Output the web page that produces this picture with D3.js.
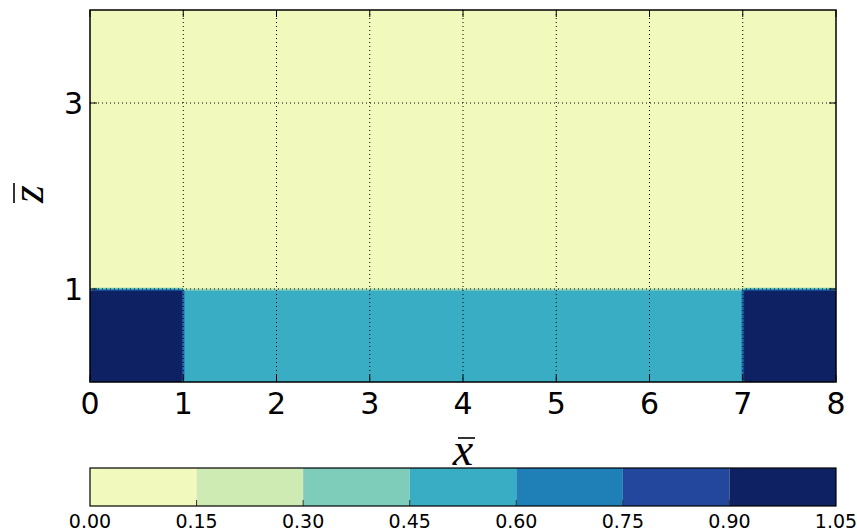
<!DOCTYPE html>
<html>
<head>
<meta charset="utf-8">
<script src="https://cdn.jsdelivr.net/npm/d3@7"></script>
<style>
  html, body { margin: 0; padding: 0; background: #fff; }
  svg { display: block; }
</style>
</head>
<body>
<svg id="chart" width="857" height="531"></svg>
<script>
// Field made of rectangular zones: [x0, x1, z0, z1] with a value each.
// Later zones win where they overlap.
const zoneBounds = [
  [0, 8, 0, 4],
  [1, 7, 0, 1],
  [0, 1, 0, 1],
  [7, 8, 0, 1]
];
const zoneValues = [0.0, 0.5, 1.0, 1.0];

// Contour levels and fill colours
const levels = [0.00, 0.15, 0.30, 0.45, 0.60, 0.75, 0.90, 1.05];
const levelColors = ["#f1f9bd", "#cdebb3", "#7ecdbb", "#39adc3", "#1f80b8", "#23479c", "#0e2163"];
const levelLabels = ["0.00", "0.15", "0.30", "0.45", "0.60", "0.75", "0.90", "1.05"];

const xTicks = [0, 1, 2, 3, 4, 5, 6, 7, 8];
const zTicks = [1, 3];

const svg = d3.select("#chart");
const plot = { left: 90, right: 836, top: 10, bottom: 382 };
const x = d3.scaleLinear().domain([0, 8]).range([plot.left, plot.right]);
const z = d3.scaleLinear().domain([0, 4]).range([plot.bottom, plot.top]);

// Sample the zoned field at cell centres of a regular grid for contouring
const step = 0.05;
const nx = Math.round(8 / step);
const nz = Math.round(4 / step);
function fieldAt(px, pz) {
  for (let k = zoneBounds.length - 1; k >= 0; k--) {
    const b = zoneBounds[k];
    if (px >= b[0] && px <= b[1] && pz >= b[2] && pz <= b[3]) return zoneValues[k];
  }
  return zoneValues[0];
}
const grid = new Array(nx * nz);
for (let j = 0; j < nz; j++) {
  for (let i = 0; i < nx; i++) {
    grid[j * nx + i] = fieldAt((i + 0.5) * step, (j + 0.5) * step);
  }
}
const contours = d3.contours().size([nx, nz]).thresholds(levels.slice(0, -1))(grid);

// grid coords -> pixels
const gx = d3.scaleLinear().domain([0, nx]).range([x(0), x(8)]);
const gz = d3.scaleLinear().domain([0, nz]).range([z(0), z(4)]);
const proj = d3.geoTransform({
  point: function(px, py) { this.stream.point(gx(px), gz(py)); }
});
const path = d3.geoPath(proj);

svg.append("defs").append("clipPath").attr("id", "plotclip")
  .append("rect")
  .attr("x", plot.left).attr("y", plot.top)
  .attr("width", plot.right - plot.left).attr("height", plot.bottom - plot.top);

const field = svg.append("g").attr("clip-path", "url(#plotclip)");
field.append("rect")
  .attr("x", plot.left).attr("y", plot.top)
  .attr("width", plot.right - plot.left).attr("height", plot.bottom - plot.top)
  .attr("fill", levelColors[0]);
field.selectAll("path.band")
  .data(contours)
  .join("path")
  .attr("class", "band")
  .attr("d", path)
  .attr("fill", (d, i) => levelColors[i]);

// Dotted grid
const gridG = svg.append("g");
gridG.selectAll("line.gx")
  .data(xTicks.filter(t => t > 0 && t < 8))
  .join("line")
  .attr("x1", d => x(d)).attr("x2", d => x(d))
  .attr("y1", plot.top).attr("y2", plot.bottom)
  .attr("stroke", "#000").attr("stroke-width", 1)
  .attr("stroke-dasharray", "1,3");
gridG.selectAll("line.gz")
  .data(zTicks)
  .join("line")
  .attr("x1", plot.left).attr("x2", plot.right)
  .attr("y1", d => z(d)).attr("y2", d => z(d))
  .attr("stroke", "#000").attr("stroke-width", 1)
  .attr("stroke-dasharray", "1,3");

// Inward ticks on all four sides
const tickLen = 7;
const ticksG = svg.append("g").attr("stroke", "#000").attr("stroke-width", 1);
xTicks.forEach(t => {
  ticksG.append("line").attr("x1", x(t)).attr("x2", x(t)).attr("y1", plot.bottom).attr("y2", plot.bottom - tickLen);
  ticksG.append("line").attr("x1", x(t)).attr("x2", x(t)).attr("y1", plot.top).attr("y2", plot.top + tickLen);
});
zTicks.forEach(t => {
  ticksG.append("line").attr("x1", plot.left).attr("x2", plot.left + tickLen).attr("y1", z(t)).attr("y2", z(t));
  ticksG.append("line").attr("x1", plot.right).attr("x2", plot.right - tickLen).attr("y1", z(t)).attr("y2", z(t));
});

// Frame
svg.append("rect")
  .attr("x", plot.left).attr("y", plot.top)
  .attr("width", plot.right - plot.left).attr("height", plot.bottom - plot.top)
  .attr("fill", "none").attr("stroke", "#000").attr("stroke-width", 1.5);

// Tick labels
const font = "'DejaVu Sans', sans-serif";
svg.append("g").selectAll("text")
  .data(xTicks)
  .join("text")
  .attr("x", d => x(d)).attr("y", 414)
  .attr("text-anchor", "middle")
  .attr("font-family", font).attr("font-size", 30)
  .text(d => d);
svg.append("g").selectAll("text")
  .data(zTicks)
  .join("text")
  .attr("x", 83).attr("y", d => z(d) + 11)
  .attr("text-anchor", "end")
  .attr("font-family", font).attr("font-size", 30)
  .text(d => d);

// Axis titles with overbars
const serif = "'Liberation Serif', 'Times New Roman', serif";
const xt = svg.append("g").attr("transform", "translate(463,465)");
xt.append("text")
  .attr("text-anchor", "middle")
  .attr("font-family", serif).attr("font-style", "italic").attr("font-size", 46)
  .text("x");
xt.append("line").attr("x1", -5).attr("x2", 12).attr("y1", -27).attr("y2", -27)
  .attr("stroke", "#000").attr("stroke-width", 1.6);

const zt = svg.append("g").attr("transform", "translate(43,194) rotate(-90)");
zt.append("text")
  .attr("text-anchor", "middle")
  .attr("font-family", serif).attr("font-style", "italic").attr("font-size", 46)
  .text("z");
zt.append("line").attr("x1", -9).attr("x2", 11).attr("y1", -29).attr("y2", -29)
  .attr("stroke", "#000").attr("stroke-width", 1.6);

// Colour bar
const cb = { left: 90, right: 836, top: 468, bottom: 506 };
const c = d3.scaleLinear().domain([levels[0], levels[levels.length - 1]]).range([cb.left, cb.right]);
const cbG = svg.append("g");
cbG.selectAll("rect.bin")
  .data(levelColors)
  .join("rect")
  .attr("class", "bin")
  .attr("x", (d, i) => c(levels[i]))
  .attr("width", (d, i) => c(levels[i + 1]) - c(levels[i]))
  .attr("y", cb.top).attr("height", cb.bottom - cb.top)
  .attr("fill", d => d);
cbG.selectAll("line.ct")
  .data(levels.slice(1, -1))
  .join("line")
  .attr("x1", d => c(d)).attr("x2", d => c(d))
  .attr("y1", cb.bottom).attr("y2", cb.bottom - 6)
  .attr("stroke", "#333").attr("stroke-width", 1);
cbG.append("rect")
  .attr("x", cb.left).attr("y", cb.top)
  .attr("width", cb.right - cb.left).attr("height", cb.bottom - cb.top)
  .attr("fill", "none").attr("stroke", "#000").attr("stroke-width", 1.2);
cbG.selectAll("text")
  .data(levels)
  .join("text")
  .attr("x", d => c(d)).attr("y", 528)
  .attr("text-anchor", "middle")
  .attr("font-family", font).attr("font-size", 19)
  .text((d, i) => levelLabels[i]);
</script>
</body>
</html>
